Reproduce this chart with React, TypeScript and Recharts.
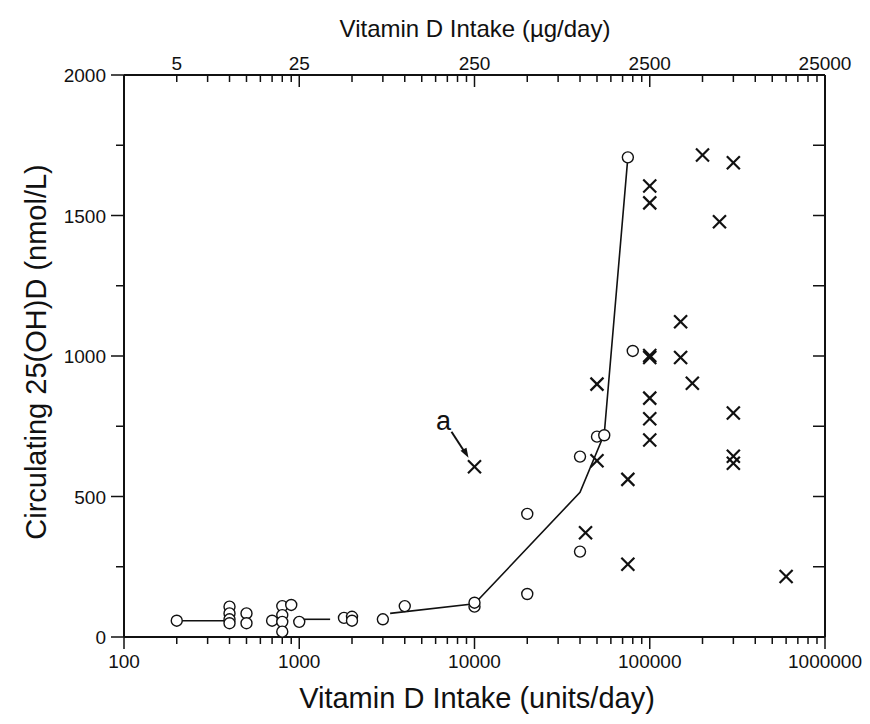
import React from "react";
import { ComposedChart, XAxis, YAxis, Scatter } from "recharts";

// units/day on the bottom axis, µg/day on top (1 µg = 40 units)
const decades = [100, 1000, 10000, 100000];
const xTicks = [...decades.flatMap((d) => [1, 2, 3, 4, 5, 6, 7, 8, 9].map((k) => d * k)), 1000000];
const topTickValues = [200, 1000, 10000, 100000, 1000000];
const topTickLabels = ["5", "25", "250", "2500", "25000"];
const yTicks = [0, 250, 500, 750, 1000, 1250, 1500, 1750, 2000];

// open circles
const circlePts = [
  [200, 58], [400, 108], [400, 84], [400, 63], [400, 49], [500, 84], [500, 49], [700, 58],
  [800, 110], [800, 78], [800, 54], [800, 19], [900, 114], [1000, 54], [1800, 68], [2000, 72],
  [2000, 58], [3000, 63], [4000, 110], [10000, 108], [10000, 122], [20000, 438], [20000, 153],
  [40000, 642], [40000, 304], [50000, 713], [55000, 718], [80000, 1018], [75000, 1707],
];

// crosses
const crossPts = [
  [10000, 606], [43000, 371], [50000, 900], [50000, 627], [75000, 561], [75000, 259],
  [100000, 1605], [100000, 1545], [100000, 995], [100000, 1002], [100000, 850], [100000, 777],
  [100000, 701], [150000, 1122], [150000, 995], [175000, 903], [200000, 1715], [250000, 1478],
  [300000, 1688], [300000, 797], [300000, 643], [300000, 618], [600000, 215],
];

// connecting line, drawn in pieces as in the figure
const lineSeg1 = [[200, 58], [400, 58]];
const lineSeg2 = [[1000, 63], [1500, 63]];
const lineSeg3 = [[3300, 84], [10000, 118], [40000, 515], [55000, 722], [75000, 1707]];
const annotationPt = [[10000, 606]];

const toRows = (pts: number[][]) => pts.map(([x, y]) => ({ x, y }));

const INK = "#111";
const FONT = "'Liberation Sans', Arial, sans-serif";
const TICK_FS = 19;

const isDecade = (v: number) => Math.abs(Math.log10(v) - Math.round(Math.log10(v))) < 1e-9;

const BottomTick = ({ x, y, payload }: any) => {
  const major = isDecade(payload.value);
  return (
    <g>
      <line x1={x} x2={x} y1={y} y2={y + (major ? 12 : 7)} stroke={INK} strokeWidth={1.5} />
      {major && (
        <text x={x} y={y + 31} textAnchor="middle" fontSize={TICK_FS} fontFamily={FONT} fill={INK}>
          {payload.value}
        </text>
      )}
    </g>
  );
};

const TopTick = ({ x, y, payload }: any) => {
  const major = isDecade(payload.value);
  const i = topTickValues.indexOf(payload.value);
  return (
    <g>
      <line x1={x} x2={x} y1={y} y2={y + (major ? 12 : 7)} stroke={INK} strokeWidth={1.5} />
      {i >= 0 && (
        <text x={x} y={y - 5} textAnchor="middle" fontSize={TICK_FS} fontFamily={FONT} fill={INK}>
          {topTickLabels[i]}
        </text>
      )}
    </g>
  );
};

const LeftTick = ({ x, y, payload }: any) => {
  const major = payload.value % 500 === 0;
  return (
    <g>
      <line x1={x - (major ? 13 : 8)} x2={x} y1={y} y2={y} stroke={INK} strokeWidth={1.5} />
      {major && (
        <text x={x - 18} y={y + 7} textAnchor="end" fontSize={TICK_FS} fontFamily={FONT} fill={INK}>
          {payload.value}
        </text>
      )}
    </g>
  );
};

const RightTick = ({ x, y }: any) => (
  <line x1={x - 12} x2={x} y1={y} y2={y} stroke={INK} strokeWidth={1.5} />
);

const OpenCircle = ({ cx, cy }: any) => (
  <circle cx={cx} cy={cy} r={5.5} fill="#fff" stroke={INK} strokeWidth={1.4} />
);

const Cross = ({ cx, cy }: any) => (
  <g stroke={INK} strokeWidth={2.2}>
    <line x1={cx - 6.5} y1={cy - 6.5} x2={cx + 6.5} y2={cy + 6.5} />
    <line x1={cx - 6.5} y1={cy + 6.5} x2={cx + 6.5} y2={cy - 6.5} />
  </g>
);

const Annotation = ({ cx, cy }: any) => (
  <g>
    <text x={cx - 31} y={cy - 37} textAnchor="middle" fontSize={27} fontFamily={FONT} fill={INK}>
      a
    </text>
    <line x1={cx - 23} y1={cy - 35} x2={cx - 10} y2={cy - 15} stroke={INK} strokeWidth={2} />
    <path d={`M ${cx - 6} ${cy - 9} L ${cx - 14} ${cy - 16} L ${cx - 8} ${cy - 19} Z`} fill={INK} />
  </g>
);

const Nothing = () => <g />;

export default function App() {
  const axisLine = { stroke: INK, strokeWidth: 2 };
  return (
    <ComposedChart width={854} height={708} margin={{ top: 0, right: 0, bottom: 0, left: 0 }}>
      <XAxis
        xAxisId="b"
        dataKey="x"
        type="number"
        scale="log"
        domain={[100, 1000000]}
        allowDataOverflow
        ticks={xTicks}
        interval={0}
        height={79}
        tickSize={0}
        tickMargin={0}
        axisLine={axisLine}
        tick={<BottomTick />}
        label={() => (
          <text x={469} y={700} textAnchor="middle" fontSize={29} fontFamily={FONT} fill={INK}>
            Vitamin D Intake (units/day)
          </text>
        )}
      />
      <XAxis
        xAxisId="t"
        orientation="top"
        dataKey="x"
        type="number"
        scale="log"
        domain={[100, 1000000]}
        allowDataOverflow
        ticks={xTicks}
        interval={0}
        height={67}
        tickSize={0}
        tickMargin={0}
        axisLine={axisLine}
        tick={<TopTick />}
        label={() => (
          <text x={467} y={29} textAnchor="middle" fontSize={24} fontFamily={FONT} fill={INK}>
            Vitamin D Intake (µg/day)
          </text>
        )}
      />
      <YAxis
        yAxisId="l"
        dataKey="y"
        type="number"
        domain={[0, 2000]}
        allowDataOverflow
        ticks={yTicks}
        interval={0}
        width={116}
        tickSize={0}
        tickMargin={0}
        axisLine={axisLine}
        tick={<LeftTick />}
        label={() => (
          <text
            x={0}
            y={0}
            transform="translate(38 344) rotate(-90)"
            textAnchor="middle"
            fontSize={29}
            fontFamily={FONT}
            fill={INK}
          >
            Circulating 25(OH)D (nmol/L)
          </text>
        )}
      />
      <YAxis
        yAxisId="r"
        orientation="right"
        dataKey="y"
        type="number"
        domain={[0, 2000]}
        allowDataOverflow
        ticks={yTicks}
        interval={0}
        width={37}
        tickSize={0}
        tickMargin={0}
        axisLine={axisLine}
        tick={<RightTick />}
      />
      <Scatter data={toRows(lineSeg1)} xAxisId="b" yAxisId="l" line={{ stroke: INK, strokeWidth: 1.6 }} shape={<Nothing />} isAnimationActive={false} />
      <Scatter data={toRows(lineSeg2)} xAxisId="b" yAxisId="l" line={{ stroke: INK, strokeWidth: 1.6 }} shape={<Nothing />} isAnimationActive={false} />
      <Scatter data={toRows(lineSeg3)} xAxisId="b" yAxisId="l" line={{ stroke: INK, strokeWidth: 1.6 }} shape={<Nothing />} isAnimationActive={false} />
      <Scatter data={toRows(circlePts)} xAxisId="b" yAxisId="l" shape={<OpenCircle />} isAnimationActive={false} />
      <Scatter data={toRows(annotationPt)} xAxisId="b" yAxisId="l" shape={<Annotation />} isAnimationActive={false} />
      <Scatter data={toRows(crossPts)} xAxisId="b" yAxisId="l" shape={<Cross />} isAnimationActive={false} />
    </ComposedChart>
  );
}
